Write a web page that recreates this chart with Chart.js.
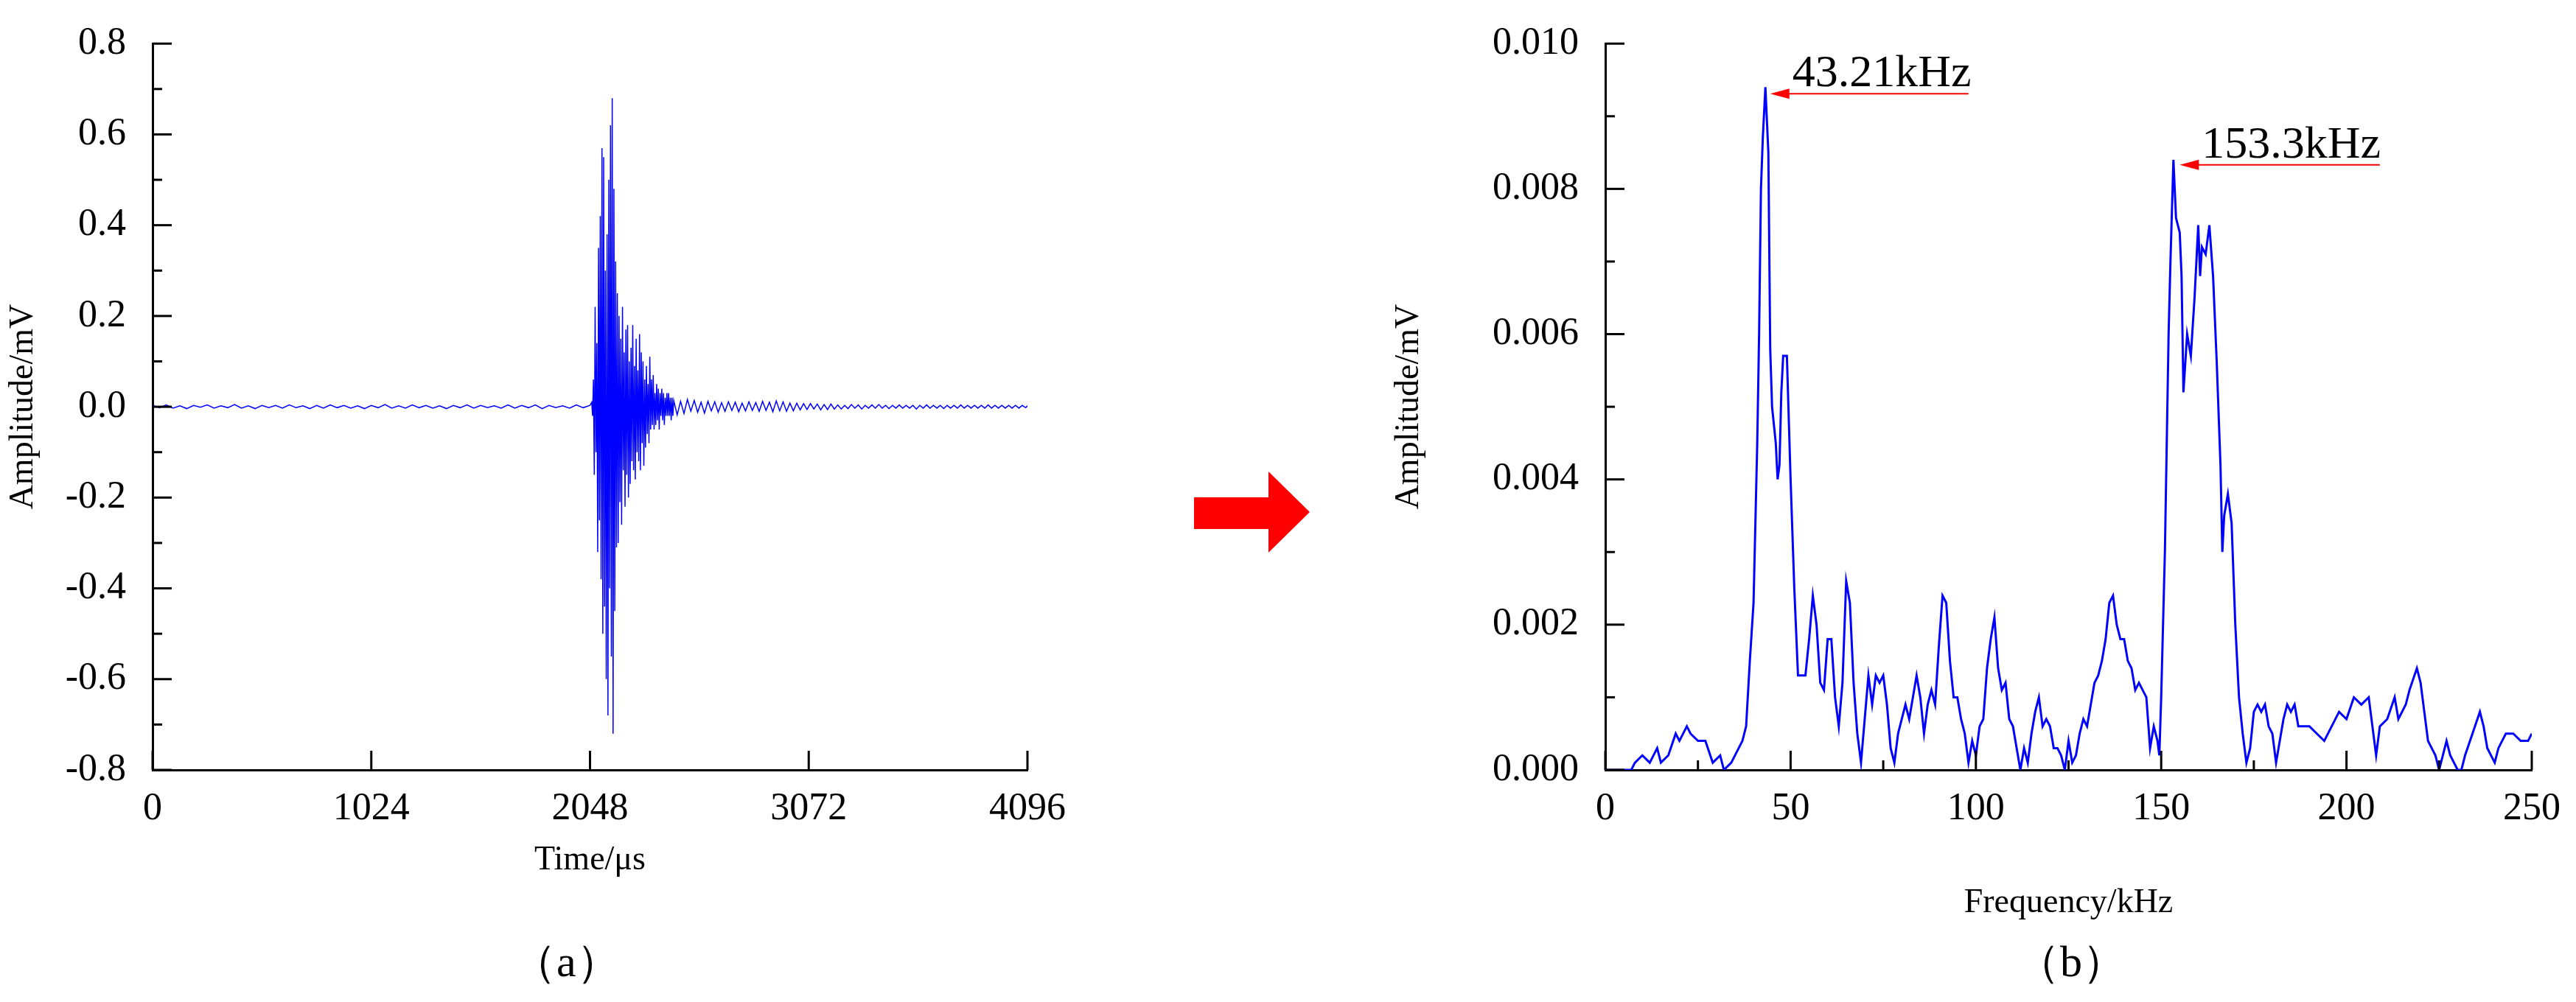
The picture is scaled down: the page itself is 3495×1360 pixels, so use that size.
<!DOCTYPE html>
<html>
<head>
<meta charset="utf-8">
<script src="https://cdn.jsdelivr.net/npm/chart.js@4"></script>
<style>
  body { margin: 0; background: #fff; width: 3495px; height: 1360px; position: relative; overflow: hidden; }
  .box { position: absolute; }
  .cap { position: absolute; font-family: "Liberation Serif", serif; font-size: 60px; color: #000; }
</style>
</head>
<body>
<div class="box" style="left:0;top:0;width:1460px;height:1260px"><canvas id="waveChart"></canvas></div>
<div class="box" style="left:1880px;top:0;width:1615px;height:1300px"><canvas id="specChart"></canvas></div>
<svg class="box" style="left:1610px;top:630px" width="180" height="130">
  <polygon points="10,45 111,45 111,10 167,65 111,120 111,88 10,88" fill="#ff0000"/>
</svg>
<div class="cap" style="left:695px;top:1265px">（a）</div>
<div class="cap" style="left:2735px;top:1265px">（b）</div>
<script>
// 時間波形 (μs, mV)
const preStep = 32;
const preAmp = [0.003,-0.002,0.004,-0.003,0.002,-0.004,0.003,-0.001,0.004,-0.003,0.002,-0.002,0.005,-0.003,0.002,-0.004,
  0.003,-0.002,0.003,-0.003,0.004,-0.002,0.002,-0.004,0.003,-0.003,0.004,-0.002,0.003,-0.003,0.002,-0.004,
  0.003,-0.002,0.005,-0.003,0.002,-0.003,0.004,-0.002,0.003,-0.003,0.002,-0.004,0.003,-0.002,0.004,-0.003,
  0.003,-0.002,0.002,-0.003,0.004,-0.003,0.003,-0.002,0.004,-0.004,0.003,-0.002,0.002,-0.003,0.004,-0.002,0.003];
const burstStart = 2056, burstStep = 4;
const burstAmp = [0.01,-0.02,0.06,-0.15,0.22,-0.10,0.14,-0.32,0.35,-0.25,0.42,-0.38,0.57,-0.50,0.55,-0.44,
  0.30,-0.60,0.38,-0.68,0.50,-0.40,0.62,-0.55,0.68,-0.72,0.48,-0.45,0.32,-0.31,0.25,-0.30,0.20,-0.21,0.15,-0.26,
  0.22,-0.14,0.12,-0.22,0.17,-0.15,0.18,-0.20,0.10,-0.17,0.13,-0.12,0.18,-0.14,0.09,-0.16,0.15,-0.10,0.08,-0.12,
  0.16,-0.14,0.12,-0.08,0.10,-0.13,0.06,-0.09,0.09,-0.06,0.05,-0.08,0.11,-0.05,0.06,-0.04,0.07,-0.05,0.03,-0.04,
  0.05,-0.03,0.04,-0.05,0.03,-0.02,0.04,-0.03,0.03,-0.04,0.02,-0.02,0.03,-0.02,0.03,-0.02,0.02,-0.03,0.02,-0.02];
const tailStart = 2440, tailStep = 16;
const tailAmp = [0.014,-0.018,0.012,-0.015,0.016,-0.010,0.014,-0.012,0.010,-0.014,0.012,-0.009,0.011,-0.012,0.009,-0.010,
  0.011,-0.008,0.010,-0.011,0.008,-0.009,0.011,-0.008,0.009,-0.010,0.012,-0.008,0.010,-0.011,0.013,-0.009,
  0.011,-0.010,0.008,-0.009,0.008,-0.007,0.007,-0.006,0.007,-0.005,0.006,-0.007,0.005,-0.006,0.006,-0.005,
  0.004,-0.005,0.003,-0.004,0.005,-0.003,0.004,-0.005,0.003,-0.003,0.004,-0.003,0.005,-0.003,0.003,-0.004,
  0.003,-0.003,0.004,-0.003,0.003,-0.003,0.003,-0.005,0.003,-0.003,0.004,-0.003,0.003,-0.003,0.003,-0.004,
  0.003,-0.003,0.003,-0.003,0.004,-0.003,0.003,-0.003,0.003,-0.003,0.003,-0.003,0.004,-0.003,0.003,-0.003,
  0.003,-0.003,0.003,-0.003,0.003,-0.003,0.003,-0.002];
const timeTicks = [0, 1024, 2048, 3072, 4096];

// 周波数スペクトル (kHz, mV)
const freqs = [0,7,8,10,12,14,15,17,19,20,22,23,25,27,29,31,32,34,36,37,38,39,40,41,41.5,42,42.5,43.2,44,44.5,45,46,46.5,47,47.5,48,49,50,
  51,52,53,54,55,56,57,58,59,60,61,62,63,64,65,66,67,68,69,70,71,72,73,74,75,76,77,78,79,80,81,82,83,84,85,86,87,88,89,90,
  91,92,93,94,95,96,97,98,99,100,101,102,103,104,105,106,107,108,109,110,111,112,113,114,115,116,117,118,119,120,
  121,122,123,124,125,126,127,128,129,130,131,132,133,134,135,136,137,138,139,140,141,142,143,144,145,146,147,148,149,149.5,
  150,151,152,152.5,153.3,154,155,155.5,156,157,158,159,160,160.5,161,162,163,164,165,166,166.5,167,168,169,170,
  171,172,173,174,175,176,177,178,179,180,181,182,183,184,185,186,187,188,190,192,194,196,198,200,202,204,206,207,208,
  209,211,213,214,216,217,219,220,221,222,224,225,226,227,228,230,231,232,234,236,237,238,240,241,243,245,247,249,250];
const spectrum = [0,0,0.0001,0.0002,0.0001,0.0003,0.0001,0.0002,0.0005,0.0004,0.0006,0.0005,0.0004,0.0004,0.0001,0.0002,0,0.0001,
  0.0003,0.0004,0.0006,0.0015,0.0023,0.0045,0.006,0.0080,0.0087,0.0094,0.0085,0.0058,0.0050,0.0045,0.0040,0.0042,0.0052,0.0057,0.0057,0.0040,
  0.0025,0.0013,0.0013,0.0013,0.0018,0.0024,0.0020,0.0012,0.0011,0.0018,0.0018,0.0010,0.0006,0.0012,0.0026,0.0023,0.0012,0.0005,0.0001,0.0007,
  0.0013,0.0009,0.0013,0.0012,0.0013,0.0009,0.0003,0.0001,0.0005,0.0007,0.0009,0.0007,0.0010,0.0013,0.0010,0.0005,0.0009,0.0011,0.0009,0.0017,
  0.0024,0.0023,0.0015,0.0010,0.0010,0.0007,0.0005,0.0001,0.0004,0.0002,0.0006,0.0007,0.0014,0.0018,0.0021,0.0014,0.0011,0.0012,0.0007,0.0006,
  0.0003,0,0.0003,0.0001,0.0005,0.0008,0.0010,0.0006,0.0007,0.0006,0.0003,0.0003,0.0002,0,0.0004,0.0001,0.0002,0.0005,0.0007,0.0006,
  0.0009,0.0012,0.0013,0.0015,0.0018,0.0023,0.0024,0.0020,0.0018,0.0018,0.0015,0.0014,0.0011,0.0012,0.0011,0.0010,0.0003,0.0006,0.0004,0.0002,
  0.0010,0.0030,0.0060,0.0070,0.0084,0.0076,0.0074,0.0068,0.0052,0.0060,0.0057,0.0065,0.0075,0.0068,0.0072,0.0071,0.0075,0.0068,0.0056,0.0042,0.0030,
  0.0035,0.0038,0.0034,0.0020,0.0010,0.0005,0.0001,0.0003,0.0008,0.0009,0.0008,0.0009,0.0006,0.0005,0.0001,0.0004,0.0007,0.0009,0.0008,0.0009,
  0.0006,0.0006,0.0006,0.0005,0.0004,0.0006,0.0008,0.0007,0.0010,0.0009,0.0010,0.0006,0.0002,0.0006,0.0007,0.0010,0.0007,0.0009,0.0011,0.0014,
  0.0012,0.0008,0.0004,0.0002,0,0.0002,0.0004,0.0002,0,0,0.0002,0.0005,0.0008,0.0006,0.0003,0.0001,0.0003,0.0005,0.0005,0.0004,0.0004,0.0005];
const peakLabels = [
  { text: '43.21kHz', f: 44.5, v: 0.00931, end: 98 },
  { text: '153.3kHz', f: 155, v: 0.00833, end: 209 }
];

const FONT = 'Liberation Serif';

// 波形の点列を組み立てる
const wavePts = [];
preAmp.forEach((a, i) => wavePts.push({ x: i * preStep, y: a }));
burstAmp.forEach((a, i) => wavePts.push({ x: burstStart + i * burstStep, y: a }));
tailAmp.forEach((a, i) => wavePts.push({ x: tailStart + i * tailStep, y: a }));
wavePts.push({ x: 4096, y: 0.002 });
const specPts = freqs.map((f, i) => ({ x: f, y: spectrum[i] }));

// 内向きの目盛りを描くプラグイン
const innerTicks = {
  id: 'innerTicks',
  afterDraw(chart, args, opts) {
    const c = chart.ctx, a = chart.chartArea;
    const xs = chart.scales.x, ys = chart.scales.y;
    c.save();
    c.strokeStyle = '#000';
    c.lineWidth = 3;
    const tick = (x1, y1, x2, y2) => { c.beginPath(); c.moveTo(x1, y1); c.lineTo(x2, y2); c.stroke(); };
    for (let v = opts.xMin; v <= opts.xMax + 1e-9; v += opts.xMinor) {
      const major = Math.abs(Math.round(v / opts.xMajor) * opts.xMajor - v) < 1e-9;
      if (!major && !opts.xShowMinor) continue;
      const px = xs.getPixelForValue(v);
      tick(px, a.bottom, px, a.bottom - (major ? 26 : 13));
    }
    for (let v = opts.yMin; v <= opts.yMax + 1e-12; v += opts.yMinor) {
      const major = Math.abs(Math.round(v / opts.yMajor) * opts.yMajor - v) < 1e-9;
      const py = ys.getPixelForValue(v);
      tick(a.left, py, a.left + (major ? 26 : 13), py);
    }
    c.restore();
  }
};

// ピークの注釈
const peakNotes = {
  id: 'peakNotes',
  afterDatasetsDraw(chart) {
    const c = chart.ctx, xs = chart.scales.x, ys = chart.scales.y;
    c.save();
    peakLabels.forEach(p => {
      const x0 = xs.getPixelForValue(p.f), x1 = xs.getPixelForValue(p.end), y = ys.getPixelForValue(p.v);
      c.strokeStyle = '#ff0000';
      c.fillStyle = '#ff0000';
      c.lineWidth = 2;
      c.beginPath(); c.moveTo(x0 + 20, y); c.lineTo(x1, y); c.stroke();
      c.beginPath(); c.moveTo(x0, y); c.lineTo(x0 + 26, y - 7); c.lineTo(x0 + 26, y + 7); c.closePath(); c.fill();
      c.fillStyle = '#000';
      c.font = '62px "' + FONT + '"';
      c.textBaseline = 'alphabetic';
      c.fillText(p.text, x0 + 30, y - 10);
    });
    c.restore();
  }
};

function axisOpts(min, max, step, title, fmt, yWidth, xHeight) {
  return {
    x: {
      type: 'linear', min: min.x, max: max.x,
      afterBuildTicks: s => { s.ticks = step.xTicks.map(v => ({ value: v })); },
      grid: { display: false },
      border: { display: true, color: '#000', width: 3 },
      ticks: { color: '#000', font: { family: FONT, size: 52 }, padding: 14, maxRotation: 0, autoSkip: false,
        callback: v => String(v) },
      title: { display: true, text: title.x, color: '#000', font: { family: FONT, size: 46 } },
      afterFit: s => { s.height = xHeight; }
    },
    y: {
      type: 'linear', min: min.y, max: max.y,
      grid: { display: false },
      border: { display: true, color: '#000', width: 3 },
      ticks: { stepSize: step.y, color: '#000', font: { family: FONT, size: 52 }, padding: 28, callback: fmt },
      title: { display: true, text: title.y, color: '#000', font: { family: FONT, size: 46 } },
      afterFit: s => { s.width = yWidth; }
    }
  };
}

new Chart(document.getElementById('waveChart'), {
  type: 'line',
  data: { datasets: [{ data: wavePts, borderColor: '#0000ff', borderWidth: 1.5, pointRadius: 0, tension: 0 }] },
  options: {
    responsive: true, maintainAspectRatio: false, animation: false,
    layout: { padding: { top: 42, right: 58, left: 0, bottom: 60 } },
    plugins: { legend: { display: false }, tooltip: { enabled: false },
      innerTicks: { xMin: 0, xMax: 4096, xMajor: 1024, xMinor: 1024, xShowMinor: false, yMin: -0.8, yMax: 0.8, yMajor: 0.2, yMinor: 0.1 } },
    scales: axisOpts({ x: 0, y: -0.8 }, { x: 4096, y: 0.8 }, { xTicks: timeTicks, y: 0.2 },
      { x: 'Time/μs', y: 'Amplitude/mV' }, v => v.toFixed(1), 207, 155)
  },
  plugins: [innerTicks]
});

new Chart(document.getElementById('specChart'), {
  type: 'line',
  data: { datasets: [{ data: specPts, borderColor: '#0000ff', borderWidth: 3, pointRadius: 0, tension: 0 }] },
  options: {
    responsive: true, maintainAspectRatio: false, animation: false,
    layout: { padding: { top: 42, right: 60, left: 0, bottom: 42 } },
    plugins: { legend: { display: false }, tooltip: { enabled: false },
      innerTicks: { xMin: 0, xMax: 250, xMajor: 50, xMinor: 25, xShowMinor: true, yMin: 0, yMax: 0.01, yMajor: 0.002, yMinor: 0.001 } },
    scales: axisOpts({ x: 0, y: 0 }, { x: 250, y: 0.01 }, { xTicks: [0, 50, 100, 150, 200, 250], y: 0.002 },
      { x: 'Frequency/kHz', y: 'Amplitude/mV' }, v => v.toFixed(3), 298, 213)
  },
  plugins: [innerTicks, peakNotes]
});
</script>
</body>
</html>
